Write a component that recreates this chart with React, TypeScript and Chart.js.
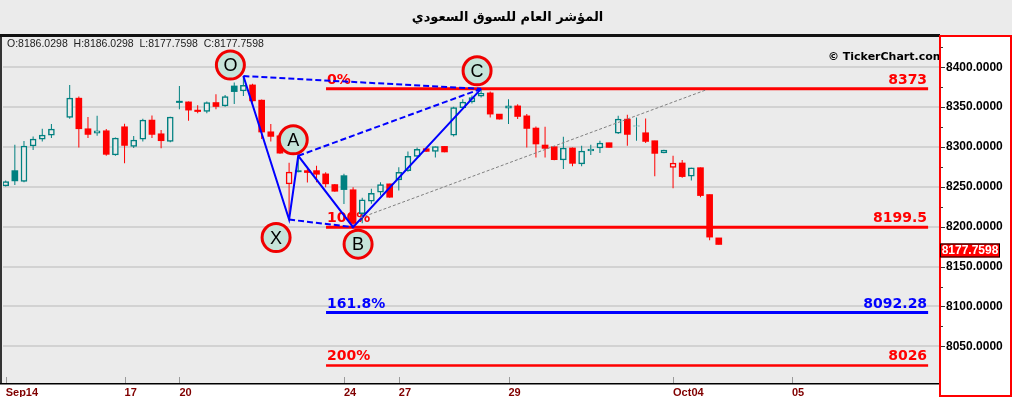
import { useEffect, useRef } from 'react';
import { Chart, registerables } from 'chart.js';

Chart.register(...registerables);

const TITLE = 'المؤشر العام للسوق السعودي';
const WATERMARK = '© TickerChart.com';

// x-axis date ticks (slot index of each label)
const tickSlots = [0, 13, 19, 37, 43, 55, 73, 86];
const tickLabels = ['Sep14', '17', '20', '24', '27', '29', 'Oct04', '05'];

// y-axis labelled values
const yLabelValues = [8050, 8100, 8150, 8200, 8250, 8300, 8350, 8400];

// candles, one per slot (slot 6 empty)
const opens: (number | null)[] = [
  8251.3, 8270.4, 8257.0, 8301.3, 8310.0, 8315.0, null, 8337.0, 8361.3, 8322.9,
  8317.5, 8320.4, 8290.0, 8325.4, 8300.8, 8310.0, 8333.8, 8316.6, 8307.0, 8357.5,
  8356.6, 8346.3, 8344.8, 8355.8, 8351.6, 8376.6, 8370.4, 8377.9, 8358.8, 8319.1,
  8314.1, 8253.8, 8270.4, 8270.4, 8270.4, 8266.3, 8252.9, 8264.1, 8246.4, 8216.3,
  8232.0, 8243.3, 8253.8, 8258.8, 8270.4, 8288.3, 8297.9, 8294.5, 8300.8, 8315.0,
  8349.5, 8356.6, 8363.8, 8367.9, 8341.3, 8348.8, 8351.6, 8339.1, 8323.8, 8302.5,
  8300.4, 8283.8, 8298.8, 8278.8, 8295.0, 8298.8, 8305.4, 8317.5, 8335.0, 8326.0,
  8317.9, 8307.9, 8292.5, 8274.5, 8280.0, 8263.3, 8274.1, 8240.4, 8186.0298,
];
const highs: (number | null)[] = [
  8257.9, 8302.9, 8307.5, 8313.3, 8322.9, 8328.8, null, 8377.9, 8363.3, 8337.5,
  8339.1, 8322.5, 8312.0, 8329.1, 8313.8, 8335.4, 8339.5, 8321.3, 8338.0, 8376.6,
  8357.0, 8352.5, 8357.0, 8366.3, 8365.4, 8381.0, 8389.0, 8379.5, 8359.5, 8328.8,
  8315.0, 8280.4, 8289.0, 8274.1, 8276.6, 8268.3, 8253.5, 8266.6, 8249.5, 8236.3,
  8247.5, 8255.8, 8254.0, 8274.5, 8294.5, 8299.5, 8298.5, 8300.6, 8301.0, 8350.4,
  8360.0, 8364.5, 8373.0, 8369.5, 8341.5, 8360.0, 8353.8, 8341.3, 8325.8, 8325.4,
  8301.0, 8312.9, 8299.5, 8301.6, 8302.9, 8307.9, 8305.5, 8339.1, 8340.4, 8337.0,
  8335.8, 8308.0, 8296.5, 8289.1, 8283.8, 8274.0, 8274.2, 8240.5, 8186.0298,
];
const lows: (number | null)[] = [
  8250.4, 8252.5, 8255.8, 8296.3, 8307.0, 8311.3, null, 8335.4, 8299.5, 8311.3,
  8314.1, 8289.1, 8289.0, 8279.5, 8298.8, 8307.0, 8311.3, 8298.3, 8306.0, 8347.5,
  8332.9, 8342.5, 8342.5, 8347.5, 8350.4, 8354.1, 8364.1, 8355.8, 8310.0, 8307.0,
  8291.6, 8209.0, 8268.5, 8255.4, 8255.8, 8249.5, 8244.0, 8228.5, 8199.5, 8204.5,
  8228.8, 8239.1, 8236.5, 8245.4, 8269.1, 8287.9, 8294.0, 8287.0, 8293.5, 8313.3,
  8348.8, 8354.5, 8362.0, 8337.0, 8334.5, 8328.8, 8335.0, 8299.5, 8287.0, 8287.0,
  8283.5, 8272.5, 8275.8, 8275.8, 8290.0, 8292.5, 8299.4, 8316.3, 8301.6, 8307.9,
  8305.0, 8263.3, 8292.3, 8248.3, 8261.3, 8257.9, 8237.0, 8182.9, 8177.7598,
];
const closes: (number | null)[] = [
  8256.8, 8257.5, 8301.3, 8310.0, 8315.0, 8322.5, null, 8361.3, 8322.9, 8315.8,
  8320.4, 8290.8, 8311.3, 8302.0, 8308.8, 8333.8, 8315.8, 8307.9, 8337.5, 8355.8,
  8346.3, 8344.5, 8355.8, 8350.8, 8363.3, 8369.5, 8377.5, 8357.9, 8318.8, 8313.3,
  8292.3, 8268.5, 8268.9, 8268.0, 8265.8, 8253.8, 8244.5, 8246.6, 8204.1, 8233.8,
  8242.0, 8252.9, 8237.0, 8268.3, 8288.3, 8297.0, 8294.5, 8300.4, 8293.8, 8349.5,
  8356.3, 8362.0, 8367.5, 8341.3, 8335.0, 8351.6, 8338.3, 8323.3, 8303.8, 8298.3,
  8284.1, 8298.8, 8279.5, 8295.0, 8297.5, 8305.0, 8299.5, 8335.0, 8315.8, 8326.5,
  8307.0, 8292.0, 8296.3, 8280.0, 8262.9, 8273.8, 8239.1, 8187.0, 8177.7598,
];

// harmonic pattern points
const patternNames = ['O', 'X', 'A', 'B', 'C'];
const patternSlots = [26, 31, 32, 38, 52];
const patternValues = [8389, 8209, 8289, 8199.5, 8373];
const dashedPairs = [[0, 4], [1, 3], [2, 4]];

// grey trend line
const trendSlots = [38.76, 76.6];
const trendValues = [8211, 8371.6];

// fibonacci levels
const fibLabels = ['0%', '100%', '161.8%', '200%'];
const fibValues = [8373, 8199.5, 8092.28, 8026];
const fibValueTexts = ['8373', '8199.5', '8092.28', '8026'];
const fibStartSlot = 35.04;
const fibEndSlot = 100.9;

// ---------- styles ----------
const BG = '#EBEBEB';
const TEAL = '#008080';
const RED = '#FF0000';
const BLUE = '#0000FF';
const fibColors = [RED, RED, BLUE, RED];
const fibWidths = [3, 3, 3, 2.5];
const circleOffsets = [[-13, -11], [-13, 18], [-5, -16], [5, 17], [-4, -18]];

type Candle = { slot: number; o: number; h: number; l: number; c: number };
const candles: Candle[] = [];
opens.forEach((o, i) => {
  if (o == null) return;
  candles.push({ slot: i, o, h: highs[i] as number, l: lows[i] as number, c: closes[i] as number });
});
const candleColors: string[] = [];
{
  let prev: number | null = null;
  for (const k of candles) {
    candleColors.push(prev == null || k.c >= prev ? TEAL : RED);
    prev = k.c;
  }
}
const last = candles[candles.length - 1];
const OHLC_TEXT = `O:${last.o.toFixed(4)}  H:${last.h.toFixed(4)}  L:${last.l.toFixed(4)}  C:${last.c.toFixed(4)}`;

const decor = {
  id: 'decor',
  beforeDraw(chart: any) {
    const { ctx, chartArea: a } = chart;
    ctx.save();
    ctx.fillStyle = BG;
    ctx.fillRect(0, 0, chart.width, chart.height);
    ctx.fillStyle = '#FFFFFF';
    ctx.fillRect(a.right, a.top - 2, chart.width - a.right, chart.height - a.top + 2);
    ctx.fillRect(0, a.bottom, a.right, chart.height - a.bottom);
    ctx.restore();
  },
  beforeDatasetsDraw(chart: any) {
    const { ctx } = chart;
    const xs = chart.scales.x;
    const ys = chart.scales.y;
    ctx.save();
    ctx.font = 'bold 14px "DejaVu Sans"';
    ctx.textBaseline = 'alphabetic';
    fibValues.forEach((v, i) => {
      const y = ys.getPixelForValue(v) - 5;
      ctx.fillStyle = fibColors[i];
      ctx.textAlign = 'left';
      ctx.fillText(fibLabels[i], xs.getPixelForValue(fibStartSlot) + 1, y);
      ctx.textAlign = 'right';
      ctx.fillText(fibValueTexts[i], xs.getPixelForValue(fibEndSlot) - 1, y);
    });
    ctx.restore();
  },
  afterDatasetsDraw(chart: any) {
    const { ctx, chartArea: a } = chart;
    const xs = chart.scales.x;
    const ys = chart.scales.y;
    ctx.save();
    patternNames.forEach((n, i) => {
      const cx = xs.getPixelForValue(patternSlots[i]) + circleOffsets[i][0];
      const cy = ys.getPixelForValue(patternValues[i]) + circleOffsets[i][1];
      ctx.beginPath();
      ctx.arc(cx, cy, 14, 0, Math.PI * 2);
      ctx.fillStyle = '#C6E3D9';
      ctx.fill();
      ctx.lineWidth = 3;
      ctx.strokeStyle = '#F00000';
      ctx.stroke();
      ctx.fillStyle = '#000';
      ctx.font = '18px "Liberation Sans"';
      ctx.textAlign = 'center';
      ctx.textBaseline = 'middle';
      ctx.fillText(n, cx, cy + 1);
    });
    ctx.font = '10.5px "Liberation Sans"';
    ctx.fillStyle = '#222';
    ctx.textAlign = 'left';
    ctx.textBaseline = 'middle';
    ctx.fillText(OHLC_TEXT, a.left + 4, a.top + 7);
    ctx.beginPath();
    ctx.rect(a.left, a.top, a.right - a.left, a.bottom - a.top);
    ctx.clip();
    ctx.font = 'bold 11px "DejaVu Sans"';
    ctx.fillStyle = '#000';
    ctx.fillText(WATERMARK, a.right - 112, a.top + 20);
    ctx.restore();
  },
  afterDraw(chart: any) {
    const { ctx, chartArea: a } = chart;
    const xs = chart.scales.x;
    const ys = chart.scales.y;
    ctx.save();
    ctx.fillStyle = '#111';
    ctx.fillRect(0, a.top - 3, a.right, 3);
    ctx.fillStyle = '#333';
    ctx.fillRect(0, a.top, 2, a.bottom - a.top);
    ctx.fillStyle = '#000';
    ctx.fillRect(0, a.bottom, a.right, 1.5);
    ctx.strokeStyle = '#FF0000';
    ctx.lineWidth = 2;
    ctx.strokeRect(a.right, a.top - 1, chart.width - a.right - 1, chart.height - a.top);
    ctx.strokeStyle = '#9A9A9A';
    ctx.lineWidth = 1;
    tickSlots.forEach((s) => {
      const x = Math.round(xs.getPixelForValue(s)) + 0.5;
      ctx.beginPath();
      ctx.moveTo(x, a.bottom - 6);
      ctx.lineTo(x, a.bottom);
      ctx.stroke();
    });
    ctx.strokeStyle = '#333';
    yLabelValues.forEach((v) => {
      const y = Math.round(ys.getPixelForValue(v)) + 0.5;
      ctx.beginPath();
      ctx.moveTo(a.right + 1, y);
      ctx.lineTo(a.right + 5, y);
      ctx.stroke();
      const ym = Math.round(ys.getPixelForValue(v + 25)) + 0.5;
      ctx.beginPath();
      ctx.moveTo(a.right + 1, ym);
      ctx.lineTo(a.right + 3, ym);
      ctx.stroke();
    });
    const py = ys.getPixelForValue(last.c);
    ctx.fillStyle = '#FF0000';
    ctx.fillRect(a.right, py - 1, 60, 14);
    ctx.strokeStyle = '#000';
    ctx.lineWidth = 1;
    ctx.strokeRect(a.right + 0.5, py - 0.5, 59, 13);
    ctx.fillStyle = '#FFF';
    ctx.font = 'bold 12px "Liberation Sans"';
    ctx.textAlign = 'center';
    ctx.textBaseline = 'middle';
    ctx.fillText(last.c.toFixed(4), a.right + 30, py + 6.5);
    ctx.restore();
  },
};

export default function App() {
  const ref = useRef<HTMLCanvasElement>(null);
  useEffect(() => {
    document.body.style.margin = '0';
    const canvas = ref.current as HTMLCanvasElement;
    const pt = (s: number, v: number) => ({ x: s, y: v });
    const datasets: any[] = [];
    fibValues.forEach((v, i) => {
      datasets.push({
        type: 'line',
        data: [pt(fibStartSlot, v), pt(fibEndSlot, v)],
        borderColor: fibColors[i],
        borderWidth: fibWidths[i],
        pointRadius: 0,
        order: 6,
      });
    });
    datasets.push({
      type: 'bar',
      data: candles.map((k) => ({ x: k.slot, y: [k.l, k.h] })),
      backgroundColor: candleColors,
      barThickness: 1,
      inflateAmount: 0,
      grouped: false,
      order: 5,
    });
    datasets.push({
      type: 'bar',
      data: candles.map((k) => ({ x: k.slot, y: [k.o, k.c] })),
      backgroundColor: candles.map((k, i) => (k.c > k.o ? BG : candleColors[i])),
      borderColor: candleColors,
      borderWidth: candles.map((k) => (k.c > k.o ? 1.5 : 0)),
      borderSkipped: false,
      barThickness: 6,
      grouped: false,
      order: 4,
    });
    datasets.push({
      type: 'line',
      data: patternSlots.map((s, i) => pt(s, patternValues[i])),
      borderColor: BLUE,
      borderWidth: 2,
      pointRadius: 0,
      order: 2,
    });
    dashedPairs.forEach(([p, q]) => {
      datasets.push({
        type: 'line',
        data: [pt(patternSlots[p], patternValues[p]), pt(patternSlots[q], patternValues[q])],
        borderColor: BLUE,
        borderWidth: 2,
        borderDash: [6, 3],
        pointRadius: 0,
        order: 2,
      });
    });
    datasets.push({
      type: 'line',
      data: trendSlots.map((s, i) => pt(s, trendValues[i])),
      borderColor: '#808080',
      borderWidth: 1,
      borderDash: [3, 2],
      pointRadius: 0,
      order: 1,
    });

    const chart = new Chart(canvas, {
      type: 'bar',
      data: { datasets },
      options: {
        animation: false,
        responsive: false,
        devicePixelRatio: 1,
        events: [],
        layout: { padding: { left: 3, right: 0, top: 0, bottom: 0 } },
        plugins: {
          legend: { display: false },
          tooltip: { enabled: false },
          title: {
            display: true,
            text: TITLE,
            color: '#000',
            font: { family: '"DejaVu Sans"', size: 13, weight: 'bold' },
            padding: { top: 10, bottom: 11.4 },
          },
        },
        scales: {
          x: {
            type: 'linear',
            min: -0.295,
            max: 102.2,
            offset: false,
            afterBuildTicks: (s: any) => {
              s.ticks = tickSlots.map((v) => ({ value: v }));
            },
            afterFit: (s: any) => {
              s.height = 14;
            },
            ticks: {
              autoSkip: false,
              maxRotation: 0,
              align: 'start',
              padding: -5,
              color: '#800000',
              font: { family: '"Liberation Sans"', size: 11, weight: 'bold' },
              callback: (v: any) => {
                const i = tickSlots.indexOf(Number(v));
                return i >= 0 ? tickLabels[i] : '';
              },
            },
            grid: { display: false, offset: false },
            border: { display: false },
          },
          y: {
            type: 'linear',
            position: 'right',
            min: 8004,
            max: 8438,
            beginAtZero: false,
            afterBuildTicks: (s: any) => {
              s.ticks = yLabelValues.map((v) => ({ value: v }));
            },
            afterFit: (s: any) => {
              s.width = 72;
            },
            ticks: {
              padding: 6,
              color: '#000',
              font: { family: '"Liberation Sans"', size: 12, weight: 'bold' },
              callback: (v: any) => Number(v).toFixed(4),
            },
            grid: { color: '#D2D2D2', lineWidth: 2, drawTicks: false },
            border: { display: false },
          },
        },
      } as any,
      plugins: [decor],
    });
    return () => chart.destroy();
  }, []);
  return (
    <div style={{ width: 1012, height: 397, background: BG }}>
      <canvas ref={ref} width={1012} height={397} style={{ display: 'block' }} />
    </div>
  );
}
